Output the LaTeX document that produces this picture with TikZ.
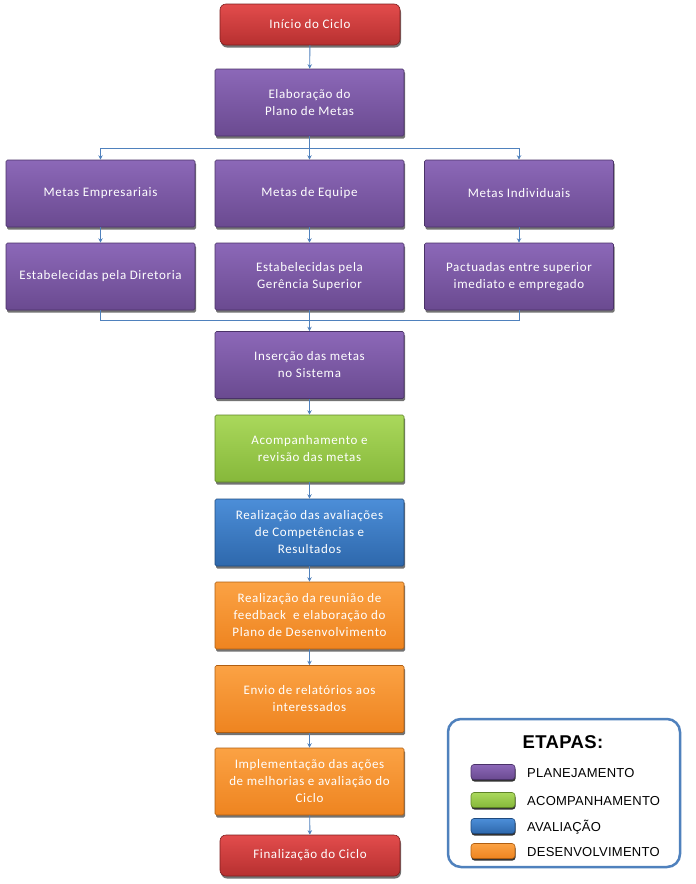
\documentclass[tikz,border=0pt]{standalone}
\usepackage{fontspec}
\setmainfont[LetterSpace=5]{Carlito}
\newfontfamily\legfont[LetterSpace=2]{Liberation Sans}
\usetikzlibrary{arrows.meta,shadows}
\definecolor{purT}{HTML}{8C68B8}
\definecolor{purB}{HTML}{6A4A90}
\definecolor{purD}{HTML}{4A3268}
\definecolor{grnT}{HTML}{AAD85C}
\definecolor{grnB}{HTML}{86B83A}
\definecolor{grnD}{HTML}{5E8426}
\definecolor{bluT}{HTML}{4C8ED8}
\definecolor{bluB}{HTML}{2E68AC}
\definecolor{bluD}{HTML}{1F4A7E}
\definecolor{orgT}{HTML}{FBA244}
\definecolor{orgB}{HTML}{EE8420}
\definecolor{orgD}{HTML}{B05E10}
\definecolor{redT}{HTML}{E24C4C}
\definecolor{redB}{HTML}{B73030}
\definecolor{redD}{HTML}{7E1E1E}
\definecolor{lnc}{HTML}{4F81BD}
\tikzset{
  basebox/.style={rectangle, rounded corners=1.5pt, minimum width=189pt, minimum height=67pt,
    align=center, text=white, font=\fontsize{13}{17}\selectfont, line width=0.6pt, inner sep=2pt,
    drop shadow={shadow xshift=1pt, shadow yshift=-2.5pt, opacity=0.55, fill=black}},
  pbox/.style={basebox, top color=purT, bottom color=purB, draw=purD},
  gbox/.style={basebox, top color=grnT, bottom color=grnB, draw=grnD},
  bbox/.style={basebox, top color=bluT, bottom color=bluB, draw=bluD},
  obox/.style={basebox, top color=orgT, bottom color=orgB, draw=orgD},
  rbox/.style={basebox, top color=redT, bottom color=redB, draw=redD, rounded corners=6pt,
    minimum width=180pt, minimum height=41pt},
  arr/.style={draw=lnc, line width=0.9pt, -{Stealth[length=4.5pt,width=4.5pt]}},
  ln/.style={draw=lnc, line width=0.9pt},
  swatch/.style={rectangle, rounded corners=3pt, minimum width=44pt, minimum height=15pt, line width=0.6pt,
    drop shadow={shadow xshift=0.5pt, shadow yshift=-2pt, opacity=0.8, fill=black}},
  leglab/.style={anchor=west, font=\legfont\fontsize{13}{15}\selectfont, text=black, inner sep=0pt}
}
\begin{document}
\begin{tikzpicture}[x=1pt,y=-1pt]
\useasboundingbox (0,0) rectangle (696,884);
\fill[white] (0,0) rectangle (696,884);
% main column
\node[rbox] (ini) at (310,24.5) {Início do Ciclo};
\node[pbox] (elab) at (309.5,102.5) {Elaboração do\\Plano de Metas};
\node[pbox] (me) at (100.5,193.5) {Metas Empresariais};
\node[pbox] (meq) at (309.5,193.5) {Metas de Equipe};
\node[pbox] (mi) at (519,193.5) {Metas Individuais};
\node[pbox] (e1) at (100.5,276.5) {Estabelecidas pela Diretoria};
\node[pbox] (e2) at (309.5,276.5) {Estabelecidas pela\\Gerência Superior};
\node[pbox] (e3) at (519,276.5) {Pactuadas entre superior\\imediato e empregado};
\node[pbox] (ins) at (309.5,365) {Inserção das metas\\no Sistema};
\node[gbox] (acomp) at (309.5,448.5) {Acompanhamento e\\revisão das metas};
\node[bbox] (aval) at (309.5,532.5) {Realização das avaliações\\de Competências e\\Resultados};
\node[obox] (reun) at (309.5,615.5) {Realização da reunião de\\feedback\ \ e elaboração do\\Plano de Desenvolvimento};
\node[obox] (envio) at (309.5,699) {Envio de relatórios aos\\interessados};
\node[obox] (impl) at (309.5,781.5) {Implementação das ações\\de melhorias e avaliação do\\Ciclo};
\node[rbox] (fim) at (310,855.5) {Finalização do Ciclo};
% connectors
\coordinate (split) at (309.5,148);
\coordinate (merge) at (309.5,320);
\draw[arr] (ini) -- (elab);
\draw[ln] (elab) -- (split);
\draw[arr] (split) -| (me.north);
\draw[arr] (split) -| (mi.north);
\draw[arr] (split) -- (meq);
\draw[arr] (me) -- (e1);
\draw[arr] (meq) -- (e2);
\draw[arr] (mi) -- (e3);
\draw[ln] (e1.south) |- (merge);
\draw[ln] (e3.south) |- (merge);
\draw[arr] (e2) -- (ins);
\draw[arr] (ins) -- (acomp);
\draw[arr] (acomp) -- (aval);
\draw[arr] (aval) -- (reun);
\draw[arr] (reun) -- (envio);
\draw[arr] (envio) -- (impl);
\draw[arr] (impl) -- (fim);
% legend
\node[draw=lnc, line width=2.5pt, rounded corners=13pt, minimum width=232pt, minimum height=148pt, fill=white] (leg) at (564,793) {};
\node[font=\legfont\bfseries\fontsize{18.5}{20}\selectfont] (ttl) at (563,742.5) {ETAPAS:};
\node[swatch, top color=purT, bottom color=purB, draw=purD] (s1) at (493,772) {};
\node[swatch, top color=grnT, bottom color=grnB, draw=grnD] (s2) at (493,800) {};
\node[swatch, top color=bluT, bottom color=bluB, draw=bluD] (s3) at (493,826) {};
\node[swatch, top color=orgT, bottom color=orgB, draw=orgD] (s4) at (493,851) {};
\node[leglab] (l1) at (527,773) {PLANEJAMENTO};
\node[leglab] (l2) at (527,801) {ACOMPANHAMENTO};
\node[leglab] (l3) at (527,827) {AVALIAÇÃO};
\node[leglab] (l4) at (527,852) {DESENVOLVIMENTO};
\end{tikzpicture}
\end{document}
